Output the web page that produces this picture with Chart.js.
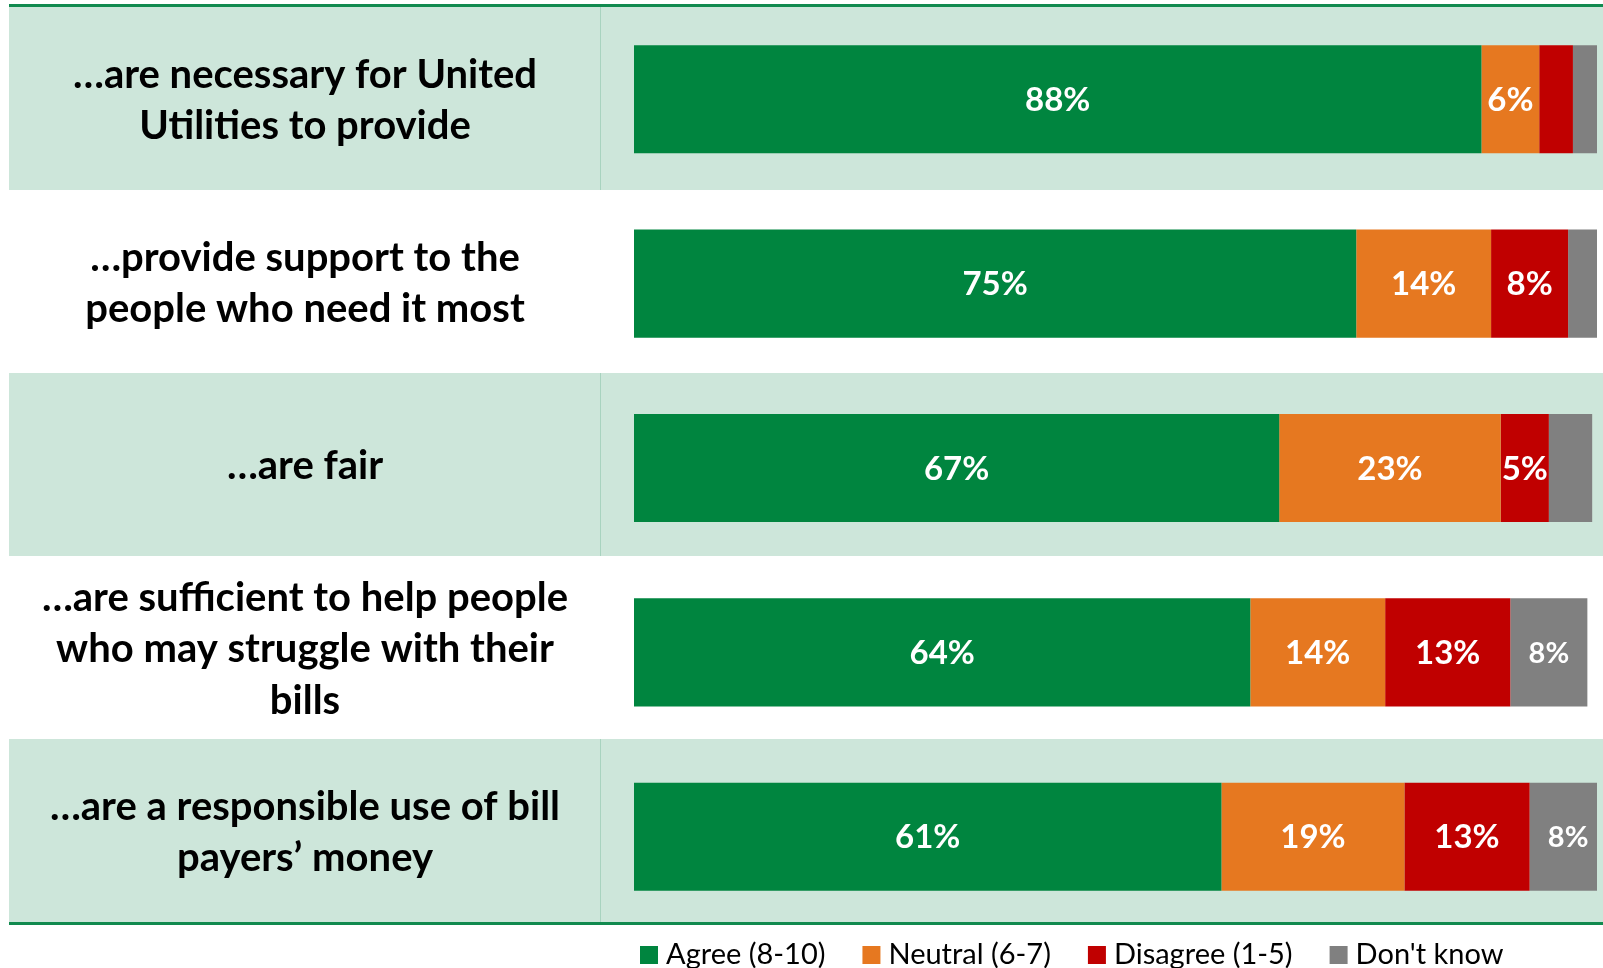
<!DOCTYPE html>
<html>
<head>
<meta charset="utf-8">
<script src="https://cdn.jsdelivr.net/npm/chart.js@4.4.1/dist/chart.umd.min.js"></script>
<style>
  html, body { margin: 0; padding: 0; background: #fff; overflow: hidden; }
  #wrap { width: 1603px; height: 968px; position: relative; }
</style>
</head>
<body>
<div id="wrap"><canvas id="chart"></canvas></div>
<script>
// Statements (one array of lines per row)
const statements = [
  ['…are necessary for United', 'Utilities to provide'],
  ['…provide support to the', 'people who need it most'],
  ['…are fair'],
  ['…are sufficient to help people', 'who may struggle with their', 'bills'],
  ['…are a responsible use of bill', 'payers’ money']
];

const seriesNames = ['Agree (8-10)', 'Neutral (6-7)', 'Disagree (1-5)', "Don't know"];
const agree    = [88, 75, 67, 64, 61];
const neutral  = [6, 14, 23, 14, 19];
const disagree = [3.5, 8, 5, 13, 13];
const dontKnow = [2.5, 3, 4.5, 8, 8];

const seriesColors = ['#00853F', '#E67820', '#C00000', '#808080'];
const BAND = '#CDE6DA';
const RULE = '#118A4F';
const FONT = 'Lato, "Open Sans", sans-serif';

// row bands of the table behind the bars
const BAND_TOP = 7;
const BAND_BOTTOM = 922;

function bandTop(i) {
  return BAND_TOP + i * (BAND_BOTTOM - BAND_TOP) / statements.length;
}

// light green bands, divider and the green top/bottom rules
const bandsPlugin = {
  id: 'bands',
  beforeDraw(chart) {
    const ctx = chart.ctx;
    const step = (BAND_BOTTOM - BAND_TOP) / statements.length;
    ctx.save();
    statements.forEach((s, i) => {
      if (i % 2 !== 0) return;
      const top = bandTop(i);
      ctx.fillStyle = BAND;
      ctx.fillRect(9, top, chart.width - 9, step);
      ctx.strokeStyle = '#A8D3BF';
      ctx.lineWidth = 1;
      ctx.beginPath();
      ctx.moveTo(600.5, top);
      ctx.lineTo(600.5, top + step);
      ctx.stroke();
    });
    ctx.strokeStyle = RULE;
    ctx.lineWidth = 3;
    ctx.beginPath();
    ctx.moveTo(9, BAND_TOP - 1.5);
    ctx.lineTo(chart.width, BAND_TOP - 1.5);
    ctx.moveTo(9, BAND_BOTTOM + 1.5);
    ctx.lineTo(chart.width, BAND_BOTTOM + 1.5);
    ctx.stroke();
    ctx.restore();
  }
};

// statement text on the left, value labels on the bars, legend below
const textPlugin = {
  id: 'texts',
  afterDatasetsDraw(chart) {
    const ctx = chart.ctx;
    const area = chart.chartArea;
    const step = (BAND_BOTTOM - BAND_TOP) / statements.length;
    ctx.save();
    ctx.textAlign = 'center';
    ctx.textBaseline = 'middle';

    ctx.fillStyle = '#000';
    ctx.font = 'bold 40px ' + FONT;
    statements.forEach((lines, i) => {
      const cy = bandTop(i) + step / 2 + 2;
      const lh = 51.6;
      lines.forEach((line, j) => {
        ctx.fillText(line, 305, cy + (j - (lines.length - 1) / 2) * lh);
      });
    });

    ctx.fillStyle = '#fff';
    chart.data.datasets.forEach((ds, di) => {
      const meta = chart.getDatasetMeta(di);
      ctx.font = 'bold ' + (di === 3 ? 29 : 33) + 'px ' + FONT;
      meta.data.forEach((bar, i) => {
        const v = ds.data[i];
        if (v < 5) return;
        const p = bar.getProps(['x', 'y', 'base'], true);
        ctx.fillText(Math.round(v) + '%', (p.x + p.base) / 2, p.y + 1);
      });
    });

    // legend
    ctx.textAlign = 'left';
    ctx.font = '29px ' + FONT;
    let lx = area.left + 6;
    const ly = BAND_BOTTOM + 33;
    seriesNames.forEach((name, i) => {
      ctx.fillStyle = seriesColors[i];
      ctx.fillRect(lx, ly - 9, 18, 18);
      ctx.fillStyle = '#000';
      ctx.fillText(name, lx + 26, ly);
      lx += 26 + ctx.measureText(name).width + 37;
    });
    ctx.restore();
  }
};

const values = [agree, neutral, disagree, dontKnow];

new Chart(document.getElementById('chart'), {
  type: 'bar',
  data: {
    labels: statements,
    datasets: seriesNames.map((name, i) => ({
      label: name,
      data: values[i],
      backgroundColor: seriesColors[i],
      borderWidth: 0,
      barPercentage: 0.586,
      categoryPercentage: 1
    }))
  },
  options: {
    indexAxis: 'y',
    responsive: true,
    maintainAspectRatio: false,
    animation: false,
    layout: { padding: { left: 634, right: 6, top: 7, bottom: 39 } },
    plugins: {
      legend: { display: false },
      tooltip: { enabled: false }
    },
    scales: {
      x: { stacked: true, min: 0, max: 100, display: false },
      y: { stacked: true, display: false }
    }
  },
  plugins: [bandsPlugin, textPlugin]
});
</script>
</body>
</html>
